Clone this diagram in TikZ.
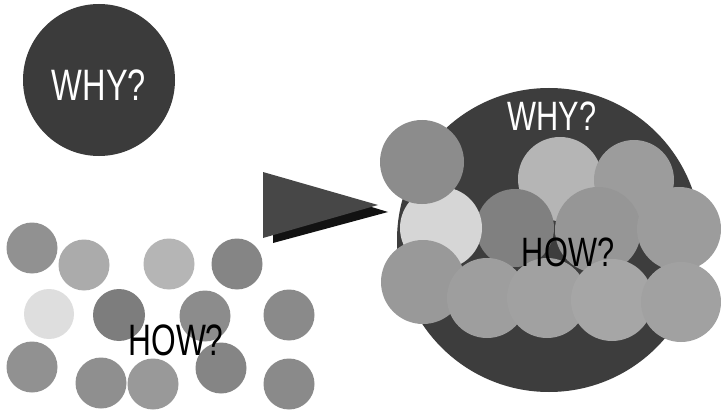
\documentclass[tikz,border=0pt]{standalone}
\usepackage{fontspec}
\setmainfont{Liberation Sans}
\begin{document}
\begin{tikzpicture}[x=1pt,y=-1pt,
  ball/.style args={#1/#2}{circle,inner sep=0pt,draw=none,minimum size=#1*2pt,fill=#2},
  lbl/.style={inner sep=0pt,font=\fontsize{44}{44}\selectfont},
  rlbl/.style={inner sep=0pt,font=\fontsize{41}{41}\selectfont}]
\useasboundingbox[fill=white] (0,0) rectangle (721,412);
% left WHY
\node[ball=76/black!77] (why1) at (99,80) {};
\node[lbl,text=white] (whyt1) at (99,85) {\scalebox{0.74}[1]{WHY?}};
% small circles
\node[ball=25.5/black!43] (s1) at (32,248) {};
\node[ball=25.5/black!33] (s2) at (84,265) {};
\node[ball=25.5/black!29] (s3) at (169,264) {};
\node[ball=25.5/black!48] (s4) at (237,264) {};
\node[ball=25/black!13] (s5) at (49,314) {};
\node[ball=26/black!51] (s6) at (119,315) {};
\node[ball=25.5/black!45] (s7) at (205,316) {};
\node[ball=25.5/black!46] (s8) at (289,315) {};
\node[ball=25.5/black!43] (s9) at (32,367) {};
\node[ball=25.5/black!44] (s10) at (101,383) {};
\node[ball=25.5/black!40] (s11) at (153,384) {};
\node[ball=25.5/black!48] (s12) at (221,368) {};
\node[ball=25.5/black!46] (s13) at (289,384) {};
\node[lbl,text=black] (howt1) at (176,340) {\scalebox{0.72}[1]{HOW?}};
% arrow triangle
\coordinate (ta) at (263,172);
\coordinate (tb) at (263,238);
\coordinate (tc) at (378,205);
\fill[black!93] ([shift={(10,5)}]ta) -- ([shift={(10,7)}]tc) -- ([shift={(10,5)}]tb) -- cycle;
\fill[black!72] (ta) -- (tc) -- (tb) -- cycle;
% right big circle
\node[ball=152/black!76] (big) at (549,240) {};
\node[rlbl,text=white] (whyt2) at (552,116) {\scalebox{0.75}[1]{WHY?}};
% cluster
\node[ball=42/black!29] (c) at (560,179) {};
\node[ball=40/black!39] (d) at (634,180) {};
\node[ball=39/black!50] (e) at (515,228) {};
\node[ball=41/black!16] (b) at (441,228) {};
\node[ball=42/black!45] (a) at (422,162) {};
\node[ball=43/black!41] (f) at (598,230) {};
\node[ball=42/black!39] (g) at (679,229) {};
\node[ball=42/black!40] (h) at (423,282) {};
\node[ball=40/black!38] (i) at (487,298) {};
\node[ball=40/black!37] (j) at (547,298) {};
\node[ball=41/black!35] (k) at (612,300) {};
\node[ball=40/black!37] (l) at (681,302) {};
\node[rlbl,text=black] (howt2) at (568,252) {\scalebox{0.75}[1]{HOW?}};
\end{tikzpicture}
\end{document}
